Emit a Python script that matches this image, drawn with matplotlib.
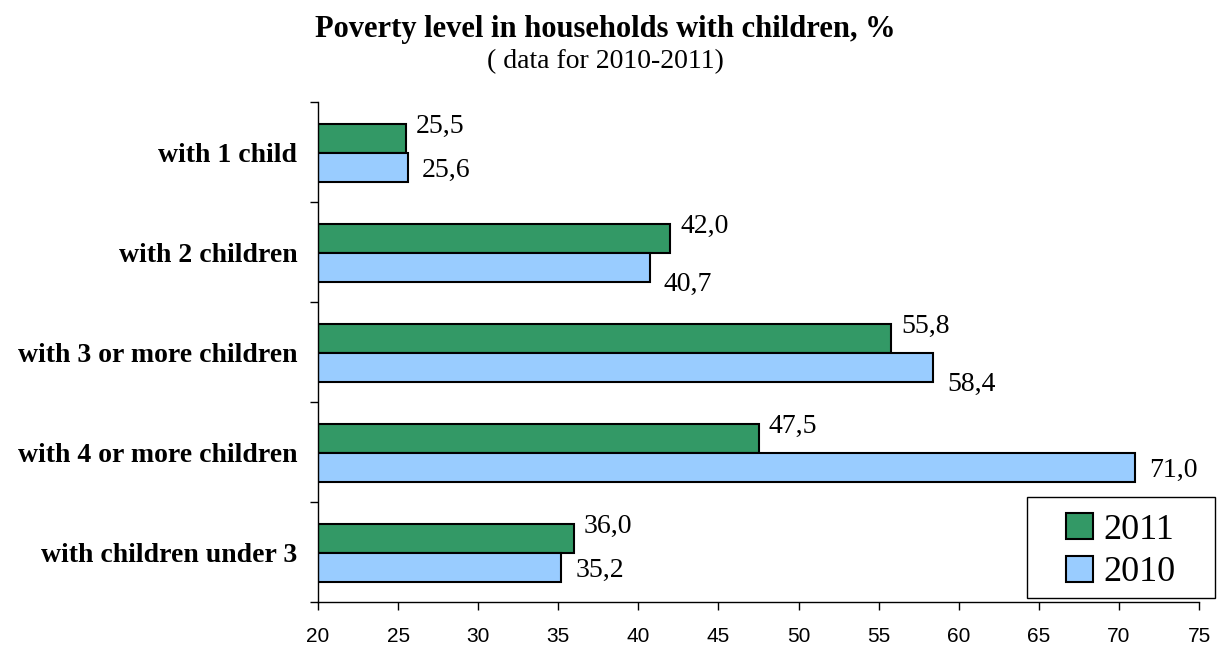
import matplotlib
matplotlib.use("Agg")
import matplotlib.pyplot as plt
from matplotlib.patches import Patch, Rectangle
import numpy as np

categories = ["with 1 child", "with 2 children", "with 3 or more children",
              "with 4 or more children", "with children under 3"]
values_2011 = [25.5, 42.0, 55.8, 47.5, 36.0]
values_2010 = [25.6, 40.7, 58.4, 71.0, 35.2]
xticks = list(range(20, 80, 5))

green = "#339966"
blue = "#99ccff"
serif = ["Liberation Serif", "DejaVu Serif"]
sans = ["Liberation Sans", "DejaVu Sans"]

fig = plt.figure(figsize=(12.23, 6.46), dpi=100)
ax = fig.add_axes([0.26, 0.0681, 0.7204, 0.7739])

y = np.arange(len(categories))
h = 0.29
base = 20
ax.barh(y - 0.135, np.array(values_2011) - base, left=base, height=h,
        color=green, edgecolor="black", linewidth=1.5)
ax.barh(y + 0.155, np.array(values_2010) - base, left=base, height=h,
        color=blue, edgecolor="black", linewidth=1.5)

# value labels, comma decimal
def fmt(v):
    return f"{v:.1f}".replace(".", ",")

for i in range(len(categories)):
    g, b = values_2011[i], values_2010[i]
    ax.annotate(fmt(g), (g, i - 0.135), xytext=(7, 9), textcoords="offset points",
                ha="left", va="center", fontsize=20, family=serif)
    # push the 2010 label down when the two bar ends are close but not equal
    dy = -12 if 1 < abs(b - g) < 5 else -2
    ax.annotate(fmt(b), (b, i + 0.155), xytext=(10, dy), textcoords="offset points",
                ha="left", va="center", fontsize=20, family=serif)

ax.set_xlim(20, 75)
ax.set_ylim(len(categories) - 0.5, -0.5)
ax.set_xticks(xticks)
ax.set_xticklabels([str(t) for t in xticks], fontsize=15, family=sans)
ax.tick_params(axis="x", direction="out", length=6, width=1, pad=12)

ax.set_yticks(np.arange(len(categories) + 1) - 0.5)
ax.set_yticklabels([])
ax.tick_params(axis="y", which="major", direction="out", length=6, width=1)
ax.set_yticks(y, minor=True)
ax.set_yticklabels(categories, minor=True, fontsize=20, fontweight="bold", family=serif)
ax.tick_params(axis="y", which="minor", length=0, pad=15)

for s in ["top", "right"]:
    ax.spines[s].set_visible(False)
for s in ["left", "bottom"]:
    ax.spines[s].set_linewidth(1)

fig.text(0.495, 0.955, "Poverty level in households with children, %", ha="center",
         va="center", fontsize=22, fontweight="bold", family=serif)
fig.text(0.495, 0.905, "( data for 2010-2011)", ha="center", va="center",
         fontsize=20, family=serif)

# legend box drawn separately so it can be wider than its contents
fig.patches.append(Rectangle((0.8397, 0.0743), 0.1537, 0.1563, transform=fig.transFigure,
                             facecolor="white", edgecolor="black", linewidth=1, zorder=5))
handles = [Patch(facecolor=green, edgecolor="black", linewidth=1.5, label="2011"),
           Patch(facecolor=blue, edgecolor="black", linewidth=1.5, label="2010")]
leg = fig.legend(handles=handles, loc="center", bbox_to_anchor=(0.9165, 0.147),
                 prop={"family": serif, "size": 26}, frameon=False,
                 handlelength=0.75, handleheight=0.75, handletextpad=0.3,
                 borderpad=0, labelspacing=0.25)
leg.set_zorder(6)

fig.savefig("out.png", dpi=100)
